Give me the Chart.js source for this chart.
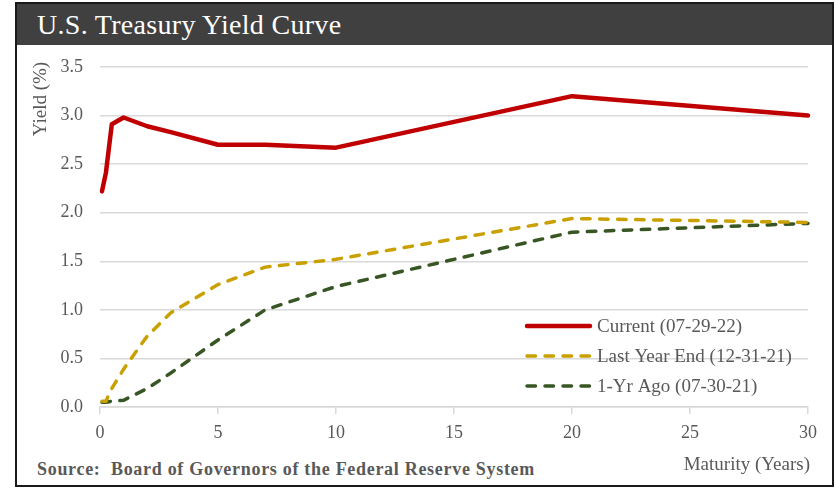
<!DOCTYPE html>
<html lang="en">
<head>
    <meta charset="UTF-8">
    <title>U.S. Treasury Yield Curve</title>
    <style>
        body { margin: 0; background: #fff; }
        #wrap { position: relative; width: 836px; height: 488px; overflow: hidden; }
        #frame { position: absolute; left: 15px; top: 2px; width: 819px; height: 485px; border: 2px solid #1a1a1a; box-sizing: border-box; }
        #title { position: absolute; left: 0; top: 0; right: 0; height: 41px; background: #404040; color: #fff;
                 font-family: "Liberation Serif", serif; font-size: 28px; letter-spacing: 0.3px; line-height: 41px; padding-left: 20px; }
        #source { position: absolute; left: 37px; top: 459px; font-family: "Liberation Serif", serif; font-weight: bold;
                  font-size: 18px; letter-spacing: 0.7px; line-height: 21px; color: #595959; }
        canvas { position: absolute; left: 0; top: 0; }
    </style>
</head>
<body>
<div id="wrap">
    <div id="frame"><div id="title">U.S. Treasury Yield Curve</div></div>
    <div id="source">Source:&nbsp; Board of Governors of the Federal Reserve System</div>
    <canvas id="myChart" width="836" height="488"></canvas>
</div>

<script src="https://cdn.jsdelivr.net/npm/chart.js"></script>
<script>
    // maturities in years: 1m, 3m, 6m, 1y, 2y, 3y, 5y, 7y, 10y, 20y, 30y
    const maturities = [1/12, 0.25, 0.5, 1, 2, 3, 5, 7, 10, 20, 30];
    const current = [2.22, 2.41, 2.91, 2.98, 2.89, 2.83, 2.70, 2.70, 2.67, 3.20, 3.00];
    const lastYearEnd = [0.06, 0.06, 0.19, 0.39, 0.73, 0.97, 1.26, 1.44, 1.52, 1.94, 1.90];
    const yearAgo = [0.05, 0.05, 0.06, 0.07, 0.19, 0.35, 0.69, 1.00, 1.24, 1.80, 1.89];
    const seriesNames = ['Current (07-29-22)', 'Last Year End (12-31-21)', '1-Yr Ago (07-30-21)'];
    const xTicks = [0, 5, 10, 15, 20, 25, 30];
    const yTicks = [0, 0.5, 1, 1.5, 2, 2.5, 3, 3.5];

    const serif = '"Liberation Serif", serif';
    const grey = '#595959';

    function pts(vals) {
        return vals.map((v, i) => ({ x: maturities[i], y: v }));
    }

    // legend + axis titles drawn on the canvas
    const extras = {
        id: 'extras',
        afterDraw(chart) {
            const c = chart.ctx;
            c.save();
            c.fillStyle = grey;
            c.font = '19px ' + serif;
            c.textBaseline = 'middle';

            c.textAlign = 'right';
            c.fillText('Maturity (Years)', 810, 465);

            c.save();
            c.translate(41, 99);
            c.rotate(-Math.PI / 2);
            c.textAlign = 'center';
            c.fillText('Yield (%)', 0, 0);
            c.restore();

            c.textAlign = 'left';
            chart.data.datasets.forEach((ds, i) => {
                const y = 326 + i * 30;
                c.strokeStyle = ds.borderColor;
                c.lineWidth = ds.borderWidth;
                c.lineCap = ds.borderCapStyle || 'butt';
                c.setLineDash(ds.borderDash || []);
                c.beginPath();
                c.moveTo(527, y);
                c.lineTo(590, y);
                c.stroke();
                c.setLineDash([]);
                c.fillText(ds.label, 597, y + 1);
            });
            c.restore();
        }
    };

    const ctx = document.getElementById('myChart');
    new Chart(ctx, {
        type: 'line',
        data: {
            datasets: [{
                label: seriesNames[0],
                data: pts(current),
                borderColor: '#C00000',
                borderWidth: 4.5,
                borderCapStyle: 'round',
                borderJoinStyle: 'round'
            }, {
                label: seriesNames[1],
                data: pts(lastYearEnd),
                borderColor: '#C9A000',
                borderWidth: 3.5,
                borderDash: [8.5, 9.5],
                borderCapStyle: 'round'
            }, {
                label: seriesNames[2],
                data: pts(yearAgo),
                borderColor: '#375623',
                borderWidth: 3.5,
                borderDash: [8.5, 9.5],
                borderCapStyle: 'round'
            }]
        },
        options: {
            responsive: false,
            animation: false,
            clip: false,
            elements: { point: { radius: 0 }, line: { tension: 0 } },
            layout: { padding: { left: 0, top: 67, right: 28, bottom: 0 } },
            plugins: { legend: { display: false }, tooltip: { enabled: false }, title: { display: false } },
            scales: {
                x: {
                    type: 'linear',
                    min: 0,
                    max: 30,
                    afterFit: s => { s.height = 81; },
                    afterBuildTicks: s => { s.ticks = xTicks.map(v => ({ value: v })); },
                    grid: { display: true, drawOnChartArea: false, drawTicks: true, tickLength: 7, color: '#D9D9D9', lineWidth: 1.5 },
                    border: { display: true, color: '#D9D9D9', width: 1.5 },
                    ticks: { padding: 8, color: grey, font: { family: serif, size: 18 }, maxRotation: 0 }
                },
                y: {
                    min: 0,
                    max: 3.5,
                    afterFit: s => { s.width = 100; },
                    afterBuildTicks: s => { s.ticks = yTicks.map(v => ({ value: v })); },
                    grid: { color: '#D9D9D9', lineWidth: 1.5, drawTicks: false },
                    border: { display: false },
                    ticks: { padding: 17, color: grey, font: { family: serif, size: 18 }, callback: v => v.toFixed(1) }
                }
            }
        },
        plugins: [extras]
    });
</script>
</body>
</html>
